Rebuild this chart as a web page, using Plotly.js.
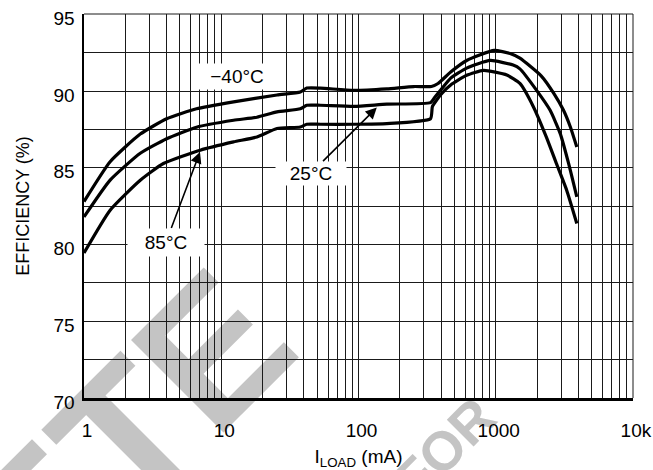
<!DOCTYPE html>
<html>
<head>
<meta charset="utf-8">
<script src="https://cdn.plot.ly/plotly-3.0.1.min.js"></script>
<style>
  html, body { margin: 0; padding: 0; background: #ffffff; }
  #wrap { position: relative; width: 653px; height: 470px; overflow: hidden; }
  #wm { position: absolute; left: 0; top: 0; }
  #chart { position: absolute; left: 0; top: 0; width: 653px; height: 470px; }
</style>
</head>
<body>
<div id="wrap">
  <svg id="wm" width="653" height="470" xmlns="http://www.w3.org/2000/svg">
    <text x="304" y="352" transform="rotate(-45 304 352)" text-anchor="end"
          font-family="Liberation Sans, Arial, sans-serif" font-weight="bold"
          font-size="190" fill="#c4c4c4">OBSOLETE</text>
    <text x="499" y="421" transform="rotate(-45 499 421)" text-anchor="end"
          font-family="Liberation Sans, Arial, sans-serif" font-weight="bold"
          font-size="55" fill="#c4c4c4">FOR</text>
  </svg>
  <div id="chart"></div>
</div>
<script>
// ---- data ----
const loadM40 = [1, 1.55, 2.57, 4, 6.6, 12.3, 25.5, 37.7, 42, 52.7, 92.5, 161, 253, 340, 380, 470, 614, 975, 1273, 1501, 2144, 2657, 3120, 3500, 3900];
const effM40  = [82.8, 85.4, 87.2, 88.2, 88.85, 89.3, 89.75, 89.95, 90.2, 90.2, 90.05, 90.15, 90.3, 90.3, 90.5, 91.25, 92.0, 92.66, 92.45, 92.15, 91.0, 89.84, 88.75, 87.66, 86.36];

const load25 = [1, 1.55, 2.57, 4, 6.6, 12.3, 18.2, 25.5, 37.7, 42, 52.7, 92.5, 161, 335, 360, 400, 470, 614, 911, 1340, 1501, 1987, 2493, 2954, 3394, 3900];
const eff25  = [81.8, 84.2, 85.95, 86.9, 87.65, 88.1, 88.3, 88.65, 88.85, 89.08, 89.08, 89.0, 89.15, 89.25, 89.6, 90.1, 90.85, 91.5, 92.0, 91.7, 91.45, 90.05, 88.75, 87.23, 85.3, 83.1];

const load85 = [1, 1.55, 2.57, 3.79, 7.03, 12.3, 18.2, 25.5, 37.7, 42, 52.7, 92.5, 161, 335, 346, 400, 470, 614, 815, 1205, 1501, 1877, 2340, 2770, 3290, 3900];
const eff85  = [79.45, 82.24, 84.19, 85.28, 86.15, 86.69, 87.01, 87.56, 87.66, 87.84, 87.84, 87.84, 87.88, 88.2, 89.0, 89.8, 90.4, 91.03, 91.35, 91.05, 90.5, 89.0, 87.0, 85.28, 83.54, 81.37];

const xDecades = [1, 10, 100, 1000, 10000];
const xDecadeLabels = ['1', '10', '100', '1000', '10k'];
const yTicks = [70, 75, 80, 85, 90, 95];

const curveLabels = ['\u221240\u00B0C', '25\u00B0C', '85\u00B0C'];

// ---- layout constants ----
const FONT = 'Liberation Sans, Arial, sans-serif';
const GRID = '#1a1a1a';
// label box centres (data coords) and sizes
const lbl = [
  {x: 13.0, y: 90.96, w: 80, h: 23},
  {x: 45.1, y: 84.65, w: 68, h: 21},
  {x: 3.96, y: 80.16, w: 74, h: 25}
];
// arrow head points (data coords) for labels that point at a curve
const heads = [null, {x: 136, y: 88.93}, {x: 7.0, y: 86.03}];

// grid tick values on log axis: every digit of every decade
const xGridVals = [], xGridText = [];
for (let d = 0; d < xDecades.length; d++) {
  const base = xDecades[d];
  if (d === xDecades.length - 1) { xGridVals.push(base); xGridText.push(xDecadeLabels[d]); break; }
  for (let k = 1; k <= 9; k++) {
    xGridVals.push(base * k);
    xGridText.push(k === 1 ? xDecadeLabels[d] : '');
  }
}

const line = {color: '#000', width: 3.2, shape: 'spline', smoothing: 0.5};
const traces = [
  {x: loadM40, y: effM40, mode: 'lines', line: line, name: curveLabels[0], hoverinfo: 'skip'},
  {x: load25, y: eff25, mode: 'lines', line: line, name: curveLabels[1], hoverinfo: 'skip'},
  {x: load85, y: eff85, mode: 'lines', line: line, name: curveLabels[2], hoverinfo: 'skip'}
];

const annotations = curveLabels.map((t, i) => {
  const base = {
    text: t, bgcolor: '#ffffff',
    width: lbl[i].w, height: lbl[i].h, align: 'center', valign: 'middle',
    font: {family: FONT, size: 19, color: '#000'}
  };
  const h = heads[i];
  if (!h) {
    return Object.assign(base, {x: Math.log10(lbl[i].x), y: lbl[i].y, xref: 'x', yref: 'y', showarrow: false});
  }
  return Object.assign(base, {
    x: Math.log10(h.x), y: h.y, xref: 'x', yref: 'y',
    ax: Math.log10(lbl[i].x), ay: lbl[i].y, axref: 'x', ayref: 'y',
    showarrow: true, arrowhead: 2, arrowsize: 1.4, arrowwidth: 1.6,
    arrowcolor: '#000', standoff: 0, startstandoff: 0
  });
});

// frame: thin top and right border of the plot area
const shapes = [
  {type: 'line', xref: 'paper', yref: 'paper', x0: 0, x1: 1, y0: 1, y1: 1, line: {color: GRID, width: 1}},
  {type: 'line', xref: 'paper', yref: 'paper', x0: 1, x1: 1, y0: 0, y1: 1, line: {color: GRID, width: 1}}
];

const layout = {
  width: 653, height: 470,
  margin: {l: 84, r: 20, t: 14, b: 72, pad: 0},
  paper_bgcolor: 'rgba(0,0,0,0)',
  plot_bgcolor: 'rgba(0,0,0,0)',
  showlegend: false,
  font: {family: FONT, size: 19, color: '#000'},
  xaxis: {
    type: 'log', range: [-0.0001, 4.0005],
    tickmode: 'array', tickvals: xGridVals, ticktext: xGridText,
    showgrid: true, gridcolor: GRID, gridwidth: 1,
    showline: true, linecolor: '#000', linewidth: 2.5,
    ticks: '', ticklabelstandoff: 14, ticklabelshift: 3, ticklabeloverflow: 'allow',
    zeroline: false, fixedrange: true,
    tickfont: {family: FONT, size: 19, color: '#000'},
    title: {text: 'I<sub>LOAD</sub> (mA)', standoff: 10, font: {family: FONT, size: 19, color: '#000'}}
  },
  yaxis: {
    range: [69.99, 95.03],
    tickmode: 'array', tickvals: yTicks,
    minor: {dtick: 2.5, showgrid: true, gridcolor: GRID, gridwidth: 1, ticks: ''},
    showgrid: true, gridcolor: GRID, gridwidth: 1,
    showline: true, linecolor: '#000', linewidth: 2.5,
    ticks: '', ticklabelstandoff: 3, ticklabelshift: 4, ticklabeloverflow: 'allow',
    zeroline: false, fixedrange: true,
    tickfont: {family: FONT, size: 19, color: '#000'},
    title: {text: 'EFFICIENCY (%)', standoff: 20, font: {family: FONT, size: 18, color: '#000'}}
  },
  shapes: shapes,
  annotations: annotations
};

Plotly.newPlot('chart', traces, layout, {displayModeBar: false, staticPlot: true});
</script>
</body>
</html>
